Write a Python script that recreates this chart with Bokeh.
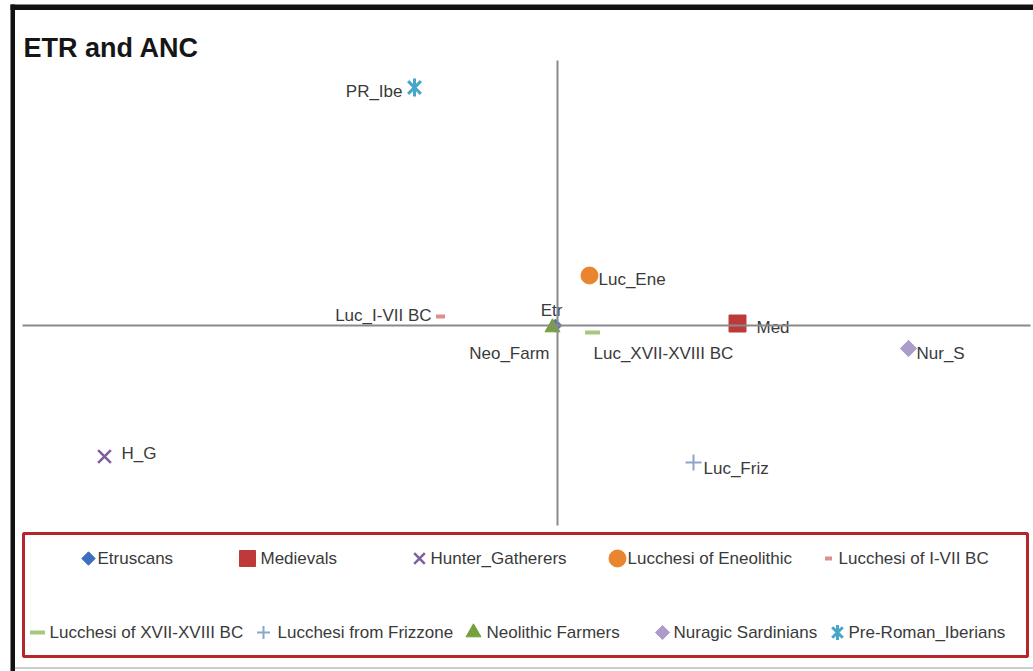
import math
from bokeh.plotting import figure
from bokeh.models import Range1d, LinearAxis, BoxAnnotation, Span, Label, ColumnDataSource, FixedTicker
from bokeh.core.properties import value
from bokeh.embed import file_html
from bokeh.resources import INLINE

# ---------------- data ----------------
TITLE = "ETR and ANC"
SERIES = ["Etruscans", "Medievals", "Hunter_Gatherers", "Lucchesi of Eneolithic",
          "Lucchesi of I-VII BC", "Lucchesi of XVII-XVIII BC", "Lucchesi from Frizzone",
          "Neolithic Farmers", "Nuragic Sardinians", "Pre-Roman_Iberians"]
POINT_LABELS = ["Etr", "Med", "H_G", "Luc_Ene", "Luc_I-VII BC", "Luc_XVII-XVIII BC",
                "Luc_Friz", "Neo_Farm", "Nur_S", "PR_Ibe"]
DIM1 = [-0.002, 0.180, -0.453, 0.032, -0.117, 0.035, 0.136, -0.005, 0.351, -0.143]
DIM2 = [0.000, 0.002, -0.131, 0.050, 0.009, -0.007, -0.137, -0.002, -0.023, 0.238]
X_AXIS = (-0.535, 0.473)
Y_AXIS = (-0.200, 0.265)

# ---------------- layout / style ----------------
W, H = 1033, 671
AX_L, AX_R, AX_T, AX_B = 22, 1030, 60, 525   # pixel box of the axis extents
sx = (AX_R - AX_L) / (X_AXIS[1] - X_AXIS[0])
sy = (AX_B - AX_T) / (Y_AXIS[1] - Y_AXIS[0])
x_start = X_AXIS[0] - AX_L / sx
x_end = x_start + W / sx
y_end = Y_AXIS[1] + AX_T / sy
y_start = y_end - H / sy


def px2x(px):
    return x_start + px / sx


def px2y(py):
    return y_end - py / sy


FONT = "Liberation Sans"
TXT = "#3a3a3a"
D45 = math.pi / 4
D90 = math.pi / 2

# marker styles (plot size, legend size)
STYLES = [
    dict(marker="square", color="#3d6fbf", size=9, lsize=9.5, lw=1, angle=D45, fill=True),
    dict(marker="square", color="#be3a3a", size=17, lsize=16, lw=1, angle=0, fill=True),
    dict(marker="x", color="#7d60a0", size=18, lsize=15, lw=2.5, angle=0, fill=False),
    dict(marker="circle", color="#e8852e", size=17, lsize=17, lw=1, angle=0, fill=True),
    dict(marker="dash", color="#dc8f8d", size=9, lsize=7, lw=4, angle=0, fill=False),
    dict(marker="dash", color="#a6c77f", size=15, lsize=15, lw=4, angle=0, fill=False),
    dict(marker="cross", color="#8ba5cb", size=16, lsize=13, lw=2, angle=0, fill=False),
    dict(marker="triangle", color="#76a03d", size=15, lsize=15, lw=1, angle=0, fill=True),
    dict(marker="square", color="#ab9cc9", size=11.5, lsize=10, lw=1, angle=D45, fill=True),
    dict(marker="x", color="#49a6cb", size=18, lsize=15, lw=3, angle=0, fill=False, star=True),
]

# point label placement: (align, dx px, dy px baseline)
LABEL_LAYOUT = [("center", -4, -15), ("left", 19, 4), ("left", 17, -3), ("left", 9, 4),
                ("right", -9, -1), ("left", 1, 21), ("left", 10, 6), ("right", -3, 26),
                ("left", 8, 5), ("right", -12, 4)]

# legend layout: (marker center x, center y, text start x) in pixels
LEG_LAYOUT = [(88, 558, 97), (247, 558, 260), (419, 558, 430), (617, 558, 627), (828, 558, 838),
              (37, 632, 49), (263, 632, 277), (473, 632, 486), (662, 632, 673), (837, 632, 848)]

p = figure(width=W, height=H, x_range=Range1d(x_start, x_end), y_range=Range1d(y_start, y_end),
           x_axis_type=None, y_axis_type=None, toolbar_location=None, output_backend="svg",
           min_border=0, outline_line_color=None, background_fill_color="white",
           border_fill_color="white")
p.xgrid.visible = False
p.ygrid.visible = False


def make_axis(bounds):
    ax = LinearAxis(fixed_location=0, bounds=bounds, ticker=FixedTicker(ticks=[]),
                    axis_line_color="#8a8a8a", axis_line_width=2,
                    major_tick_line_color=None, minor_tick_line_color=None,
                    major_tick_in=0, major_tick_out=0, minor_tick_in=0, minor_tick_out=0,
                    major_label_standoff=0)
    return ax


p.add_layout(make_axis(X_AXIS), "below")
p.add_layout(make_axis(Y_AXIS), "left")


def draw_marker(x, y, st, size):
    kw = dict(marker=st["marker"], size=size, angle=st["angle"], line_color=st["color"],
              line_width=st["lw"])
    kw["fill_color"] = st["color"] if st["fill"] else None
    p.scatter(x=x, y=y, **kw)
    if st.get("star"):
        p.scatter(x=x, y=y, marker="dash", size=size, angle=D90, line_color=st["color"],
                  line_width=st["lw"])


# data points
for i, st in enumerate(STYLES):
    draw_marker([DIM1[i]], [DIM2[i]], st, st["size"])

# point labels
lab_src = ColumnDataSource(dict(
    x=DIM1, y=DIM2, text=POINT_LABELS,
    align=[l[0] for l in LABEL_LAYOUT],
    dx=[l[1] for l in LABEL_LAYOUT],
    dy=[l[2] for l in LABEL_LAYOUT]))
p.text(x="x", y="y", text="text", source=lab_src, x_offset="dx", y_offset="dy",
       text_align="align", text_baseline="alphabetic", text_font=value(FONT),
       text_font_size=value("17px"), text_color=TXT)

# legend (drawn manually to mimic the original layout)
for i, st in enumerate(STYLES):
    cx, cy, tx = LEG_LAYOUT[i]
    draw_marker([px2x(cx)], [px2y(cy)], st, st["lsize"])
p.text(x=[px2x(l[2]) for l in LEG_LAYOUT], y=[px2y(l[1]) for l in LEG_LAYOUT], text=SERIES,
       text_align="left", text_baseline="middle", text_font=value(FONT),
       text_font_size=value("17px"), text_color=TXT)

p.add_layout(BoxAnnotation(left=px2x(23), right=px2x(1027), top=px2y(533), bottom=px2y(656),
                           fill_alpha=0, line_color="#b5262c", line_alpha=1, line_width=3))

# chart frame (left and top black strips, light bottom line)
p.add_layout(BoxAnnotation(left=px2x(10), right=px2x(14.5), top=px2y(4), bottom=None,
                           fill_color="#111111", fill_alpha=1, line_alpha=0))
p.add_layout(BoxAnnotation(left=px2x(10), right=None, top=px2y(4), bottom=px2y(9.5),
                           fill_color="#111111", fill_alpha=1, line_alpha=0))
p.add_layout(BoxAnnotation(left=px2x(14.5), right=None, top=px2y(666.5), bottom=px2y(668.5),
                           fill_color="#cccccc", fill_alpha=1, line_alpha=0))

# title
p.add_layout(Label(x=px2x(23), y=px2y(47), text=TITLE, text_font=FONT, text_font_size="27px",
                   text_font_style="bold", text_color="#161616", text_baseline="alphabetic"))

open("out.html", "w").write(file_html(p, INLINE))
